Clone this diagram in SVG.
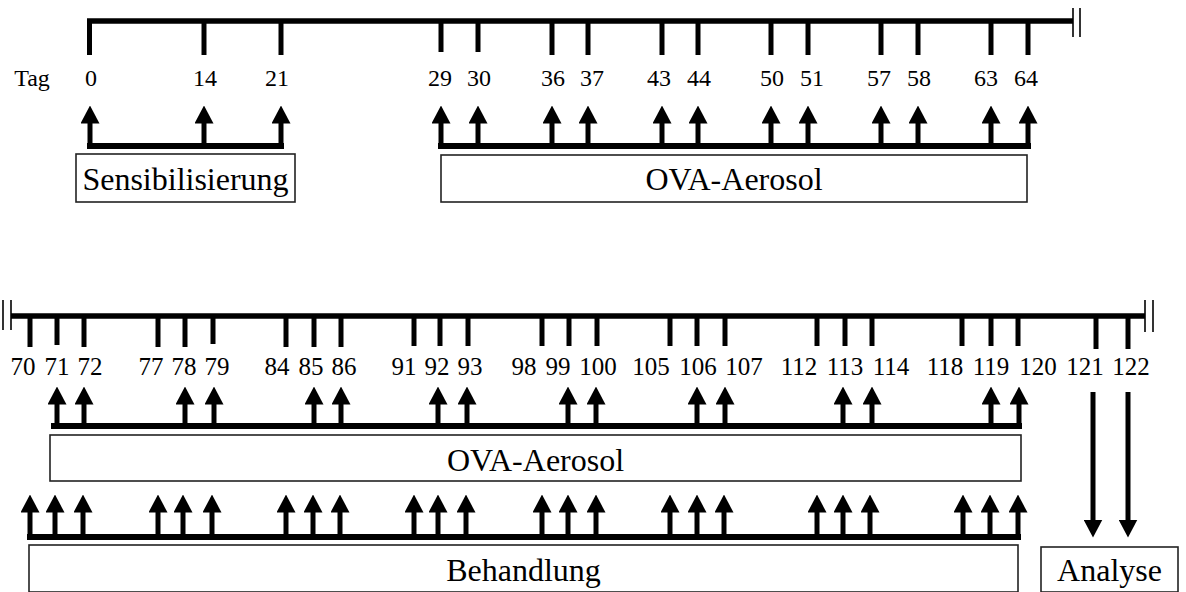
<svg xmlns="http://www.w3.org/2000/svg" width="1186" height="592" viewBox="0 0 1186 592">
  <style>
    .axis { stroke: #000; stroke-width: 5.5; fill: none; }
    .tick { stroke: #000; stroke-width: 5; }
    .brk { stroke: #000; stroke-width: 1.6; }
    .lbl { font-family: "Liberation Serif", "Times New Roman", serif; font-size: 24px; fill: #000; text-anchor: middle; }
    .lbl2 { font-family: "Liberation Serif", "Times New Roman", serif; font-size: 25px; fill: #000; text-anchor: middle; }
    .box { fill: #fff; stroke: #222; stroke-width: 1.6; }
    .boxtxt { font-family: "Liberation Serif", "Times New Roman", serif; font-size: 32px; fill: #000; text-anchor: middle; }
    .bar { stroke: #000; stroke-width: 6; fill: none; }
    .shaft { stroke: #000; stroke-width: 5; marker-end: url(#head); }
  </style>
  <defs>
    <marker id="head" markerUnits="userSpaceOnUse" markerWidth="18" markerHeight="19" viewBox="0 0 18 19" refX="0.5" refY="9.5" orient="auto">
      <path d="M0,0 L18,9.5 L0,19 z" fill="#000"/>
    </marker>
  </defs>

  <!-- upper time axis, days 0-64 -->
  <g id="axis-top">
    <line class="axis" x1="87" y1="21" x2="1073" y2="21"/>
    <line class="brk" x1="1073" y1="8" x2="1073" y2="37"/>
    <line class="brk" x1="1080" y1="8" x2="1080" y2="37"/>
    <g class="tick">
      <line x1="89.5" y1="21" x2="89.5" y2="55"/>
      <line x1="204" y1="21" x2="204" y2="55"/>
      <line x1="281" y1="21" x2="281" y2="55"/>
      <line x1="441" y1="21" x2="441" y2="52"/>
      <line x1="478" y1="21" x2="478" y2="52"/>
      <line x1="552" y1="21" x2="552" y2="55"/>
      <line x1="588" y1="21" x2="588" y2="55"/>
      <line x1="662" y1="21" x2="662" y2="55"/>
      <line x1="698" y1="21" x2="698" y2="55"/>
      <line x1="771" y1="21" x2="771" y2="55"/>
      <line x1="808" y1="21" x2="808" y2="55"/>
      <line x1="881" y1="21" x2="881" y2="55"/>
      <line x1="918" y1="21" x2="918" y2="55"/>
      <line x1="991" y1="21" x2="991" y2="55"/>
      <line x1="1028" y1="21" x2="1028" y2="55"/>
    </g>
    <text class="lbl" x="32" y="86">Tag</text>
    <text class="lbl" x="91" y="86">0</text>
    <text class="lbl" x="205" y="86">14</text>
    <text class="lbl" x="277" y="86">21</text>
    <text class="lbl" x="440" y="86">29</text>
    <text class="lbl" x="479" y="86">30</text>
    <text class="lbl" x="553" y="86">36</text>
    <text class="lbl" x="592" y="86">37</text>
    <text class="lbl" x="659" y="86">43</text>
    <text class="lbl" x="699" y="86">44</text>
    <text class="lbl" x="772" y="86">50</text>
    <text class="lbl" x="812" y="86">51</text>
    <text class="lbl" x="879" y="86">57</text>
    <text class="lbl" x="919" y="86">58</text>
    <text class="lbl" x="986" y="86">63</text>
    <text class="lbl" x="1026" y="86">64</text>
  </g>

  <!-- lower time axis, days 70-122 -->
  <g id="axis-bottom">
    <line class="brk" x1="3" y1="300" x2="3" y2="330"/>
    <line class="brk" x1="11" y1="300" x2="11" y2="330"/>
    <line class="axis" x1="11" y1="316" x2="1145" y2="316"/>
    <line class="brk" x1="1145" y1="300" x2="1145" y2="332"/>
    <line class="brk" x1="1153" y1="300" x2="1153" y2="332"/>
    <g class="tick">
      <line x1="30" y1="316" x2="30" y2="347"/>
      <line x1="57" y1="316" x2="57" y2="345"/>
      <line x1="84" y1="316" x2="84" y2="347"/>
      <line x1="158" y1="316" x2="158" y2="347"/>
      <line x1="185" y1="316" x2="185" y2="347"/>
      <line x1="213" y1="316" x2="213" y2="344"/>
      <line x1="286" y1="316" x2="286" y2="347"/>
      <line x1="314" y1="316" x2="314" y2="347"/>
      <line x1="341" y1="316" x2="341" y2="347"/>
      <line x1="414" y1="316" x2="414" y2="346"/>
      <line x1="440" y1="316" x2="440" y2="346"/>
      <line x1="468" y1="316" x2="468" y2="346"/>
      <line x1="542" y1="316" x2="542" y2="346"/>
      <line x1="569" y1="316" x2="569" y2="346"/>
      <line x1="597" y1="316" x2="597" y2="346"/>
      <line x1="670" y1="316" x2="670" y2="346"/>
      <line x1="697" y1="316" x2="697" y2="346"/>
      <line x1="725" y1="316" x2="725" y2="346"/>
      <line x1="817" y1="316" x2="817" y2="346"/>
      <line x1="845" y1="316" x2="845" y2="346"/>
      <line x1="872" y1="316" x2="872" y2="346"/>
      <line x1="962" y1="316" x2="962" y2="346"/>
      <line x1="991" y1="316" x2="991" y2="346"/>
      <line x1="1018" y1="316" x2="1018" y2="346"/>
      <line x1="1096" y1="316" x2="1096" y2="349"/>
      <line x1="1128" y1="316" x2="1128" y2="349"/>
    </g>
    <text class="lbl2" x="23" y="375">70</text>
    <text class="lbl2" x="57" y="375">71</text>
    <text class="lbl2" x="90" y="375">72</text>
    <text class="lbl2" x="151" y="375">77</text>
    <text class="lbl2" x="184" y="375">78</text>
    <text class="lbl2" x="217" y="375">79</text>
    <text class="lbl2" x="277" y="375">84</text>
    <text class="lbl2" x="311" y="375">85</text>
    <text class="lbl2" x="344" y="375">86</text>
    <text class="lbl2" x="404" y="375">91</text>
    <text class="lbl2" x="437" y="375">92</text>
    <text class="lbl2" x="470" y="375">93</text>
    <text class="lbl2" x="524" y="375">98</text>
    <text class="lbl2" x="558" y="375">99</text>
    <text class="lbl2" x="598" y="375">100</text>
    <text class="lbl2" x="651" y="375">105</text>
    <text class="lbl2" x="698" y="375">106</text>
    <text class="lbl2" x="744" y="375">107</text>
    <text class="lbl2" x="799" y="375">112</text>
    <text class="lbl2" x="845" y="375">113</text>
    <text class="lbl2" x="891" y="375">114</text>
    <text class="lbl2" x="945" y="375">118</text>
    <text class="lbl2" x="991" y="375">119</text>
    <text class="lbl2" x="1038" y="375">120</text>
    <text class="lbl2" x="1085" y="375">121</text>
    <text class="lbl2" x="1131" y="375">122</text>
  </g>

  <!-- phase boxes -->
  <g id="sensibilisierung">
    <rect class="box" x="76" y="154" width="219" height="48"/>
    <text class="boxtxt" x="185.5" y="190">Sensibilisierung</text>
  </g>
  <g id="ova-aerosol-1">
    <rect class="box" x="441" y="155" width="586" height="47"/>
    <text class="boxtxt" x="734" y="190">OVA-Aerosol</text>
  </g>
  <g id="ova-aerosol-2">
    <rect class="box" x="50" y="435" width="971" height="46"/>
    <text class="boxtxt" x="535.5" y="471">OVA-Aerosol</text>
  </g>
  <g id="behandlung">
    <rect class="box" x="29" y="545" width="989" height="47"/>
    <text class="boxtxt" x="523.5" y="581">Behandlung</text>
  </g>
  <g id="analyse">
    <rect class="box" x="1041" y="547" width="137" height="45"/>
    <text class="boxtxt" x="1109.5" y="581">Analyse</text>
  </g>

  <!-- connectors: brackets and arrows -->
  <g id="connectors">
    <!-- sensitisation -->
    <line class="bar" x1="87" y1="146" x2="284" y2="146"/>
    <line class="shaft" x1="90" y1="146" x2="90" y2="123"/>
    <line class="shaft" x1="204" y1="146" x2="204" y2="123"/>
    <line class="shaft" x1="281" y1="146" x2="281" y2="123"/>

    <!-- first aerosol series -->
    <line class="bar" x1="438" y1="146" x2="1031" y2="146"/>
    <line class="shaft" x1="441" y1="146" x2="441" y2="123"/>
    <line class="shaft" x1="478" y1="146" x2="478" y2="123"/>
    <line class="shaft" x1="552" y1="146" x2="552" y2="123"/>
    <line class="shaft" x1="588" y1="146" x2="588" y2="123"/>
    <line class="shaft" x1="662" y1="146" x2="662" y2="123"/>
    <line class="shaft" x1="698" y1="146" x2="698" y2="123"/>
    <line class="shaft" x1="771" y1="146" x2="771" y2="123"/>
    <line class="shaft" x1="808" y1="146" x2="808" y2="123"/>
    <line class="shaft" x1="881" y1="146" x2="881" y2="123"/>
    <line class="shaft" x1="918" y1="146" x2="918" y2="123"/>
    <line class="shaft" x1="991" y1="146" x2="991" y2="123"/>
    <line class="shaft" x1="1028" y1="146" x2="1028" y2="123"/>

    <!-- second aerosol series -->
    <line class="bar" x1="51" y1="426" x2="1022" y2="426"/>
    <line class="shaft" x1="57" y1="426" x2="57" y2="404"/>
    <line class="shaft" x1="84" y1="426" x2="84" y2="404"/>
    <line class="shaft" x1="185" y1="426" x2="185" y2="404"/>
    <line class="shaft" x1="214" y1="426" x2="214" y2="404"/>
    <line class="shaft" x1="314" y1="426" x2="314" y2="404"/>
    <line class="shaft" x1="341" y1="426" x2="341" y2="404"/>
    <line class="shaft" x1="438" y1="426" x2="438" y2="404"/>
    <line class="shaft" x1="467" y1="426" x2="467" y2="404"/>
    <line class="shaft" x1="568" y1="426" x2="568" y2="404"/>
    <line class="shaft" x1="596" y1="426" x2="596" y2="404"/>
    <line class="shaft" x1="697" y1="426" x2="697" y2="404"/>
    <line class="shaft" x1="725" y1="426" x2="725" y2="404"/>
    <line class="shaft" x1="843" y1="426" x2="843" y2="404"/>
    <line class="shaft" x1="872" y1="426" x2="872" y2="404"/>
    <line class="shaft" x1="991" y1="426" x2="991" y2="404"/>
    <line class="shaft" x1="1019" y1="426" x2="1019" y2="404"/>

    <!-- treatment series -->
    <line class="bar" x1="27" y1="537" x2="1021" y2="537"/>
    <line class="shaft" x1="30" y1="537" x2="30" y2="512"/>
    <line class="shaft" x1="55" y1="537" x2="55" y2="512"/>
    <line class="shaft" x1="83" y1="537" x2="83" y2="512"/>
    <line class="shaft" x1="158" y1="537" x2="158" y2="512"/>
    <line class="shaft" x1="183" y1="537" x2="183" y2="512"/>
    <line class="shaft" x1="212" y1="537" x2="212" y2="512"/>
    <line class="shaft" x1="286" y1="537" x2="286" y2="512"/>
    <line class="shaft" x1="313" y1="537" x2="313" y2="512"/>
    <line class="shaft" x1="340" y1="537" x2="340" y2="512"/>
    <line class="shaft" x1="414" y1="537" x2="414" y2="512"/>
    <line class="shaft" x1="438" y1="537" x2="438" y2="512"/>
    <line class="shaft" x1="466" y1="537" x2="466" y2="512"/>
    <line class="shaft" x1="542" y1="537" x2="542" y2="512"/>
    <line class="shaft" x1="568" y1="537" x2="568" y2="512"/>
    <line class="shaft" x1="596" y1="537" x2="596" y2="512"/>
    <line class="shaft" x1="670" y1="537" x2="670" y2="512"/>
    <line class="shaft" x1="697" y1="537" x2="697" y2="512"/>
    <line class="shaft" x1="724" y1="537" x2="724" y2="512"/>
    <line class="shaft" x1="817" y1="537" x2="817" y2="512"/>
    <line class="shaft" x1="843" y1="537" x2="843" y2="512"/>
    <line class="shaft" x1="870" y1="537" x2="870" y2="512"/>
    <line class="shaft" x1="963" y1="537" x2="963" y2="512"/>
    <line class="shaft" x1="990" y1="537" x2="990" y2="512"/>
    <line class="shaft" x1="1018" y1="537" x2="1018" y2="512"/>

    <!-- analysis -->
    <line class="shaft" x1="1093" y1="392" x2="1093" y2="520"/>
    <line class="shaft" x1="1128" y1="392" x2="1128" y2="520"/>
  </g>
</svg>
